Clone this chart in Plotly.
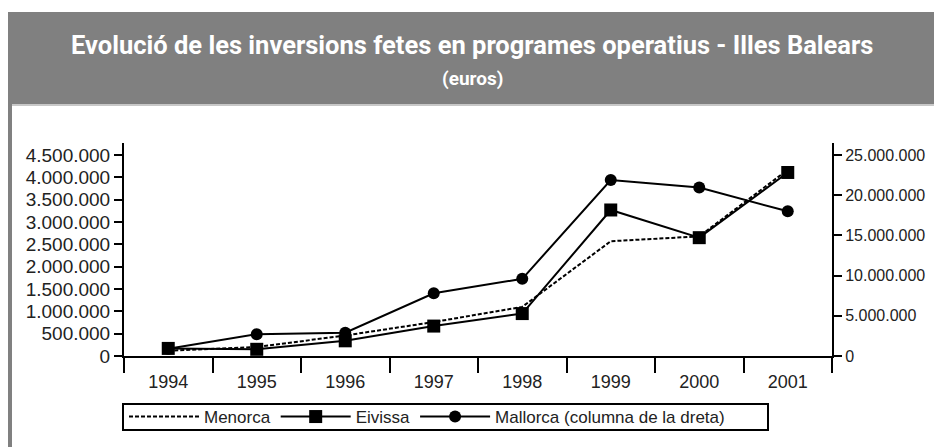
import plotly.graph_objects as go

# Dades (euros)
anys = ["1994", "1995", "1996", "1997", "1998", "1999", "2000", "2001"]
menorca = [120000, 200000, 460000, 760000, 1100000, 2570000, 2680000, 4170000]
eivissa = [170000, 150000, 340000, 670000, 950000, 3270000, 2650000, 4110000]
mallorca = [900000, 2720000, 2900000, 7800000, 9600000, 21900000, 20950000, 18000000]

left_ticks = [0, 500000, 1000000, 1500000, 2000000, 2500000, 3000000, 3500000, 4000000, 4500000]
right_ticks = [0, 5000000, 10000000, 15000000, 20000000, 25000000]

# the page body adds an 8px margin, so the figure is 8px smaller and
# every position below is page position - 8
OFF = 8
W, H = 942 - OFF, 447 - OFF
L, R, T, PB = 124 - OFF, 832 - OFF, 143 - OFF, 440 - OFF
AXIS_Y = 356 - OFF


def px(x):
    return (x - OFF - L) / (R - L)


def py(y):
    return (PB - (y - OFF)) / (PB - T)


font_axis = "Liberation Sans, Arial, sans-serif"
font_title = "Roboto, Liberation Sans, sans-serif"

fig = go.Figure()

fig.add_trace(go.Scatter(
    x=anys, y=mallorca, name="Mallorca (columna de la dreta)", mode="lines+markers",
    line=dict(color="black", width=2),
    marker=dict(symbol="circle", size=12, color="black"),
    yaxis="y2", legendrank=3,
))
fig.add_trace(go.Scatter(
    x=anys, y=menorca, name="Menorca", mode="lines",
    line=dict(color="black", width=2, dash="4px,2px"),
    legendrank=1,
))
fig.add_trace(go.Scatter(
    x=anys, y=eivissa, name="Eivissa", mode="lines+markers",
    line=dict(color="black", width=2),
    marker=dict(symbol="square", size=13, color="black"),
    legendrank=2,
))

ymax = 4770000
ydom = [(PB - AXIS_Y) / (PB - T), 1]
fig.update_layout(
    template="none",
    width=W, height=H,
    margin=dict(l=L, r=W - R, t=T, b=H - PB, pad=0),
    paper_bgcolor="white", plot_bgcolor="rgba(0,0,0,0)",
    separators=",.",
    font=dict(family=font_axis, size=17, color="#222"),
    showlegend=True,
    legend=dict(
        orientation="h", x=0, y=py(417), xanchor="left", yanchor="middle",
        borderwidth=0, itemwidth=70, traceorder="normal",
        font=dict(size=17, color="#222"), bgcolor="rgba(0,0,0,0)",
    ),
    xaxis=dict(
        type="category", range=[-0.5, 7.5], automargin=False,
        showline=True, linecolor="black", linewidth=2,
        ticks="outside", tickson="boundaries", ticklen=15, tickcolor="black", tickwidth=1.5,
        ticklabelstandoff=8,
        showgrid=False, zeroline=False,
        tickfont=dict(size=18),
    ),
    yaxis=dict(
        domain=ydom, range=[0, ymax], tickvals=left_ticks, tickformat=",d", automargin=False,
        showline=True, linecolor="black", linewidth=2,
        ticks="outside", ticklen=8, tickcolor="black", tickwidth=1.5,
        showgrid=False, zeroline=False,
        tickfont=dict(size=19),
    ),
    yaxis2=dict(
        range=[0, ymax * 25 / 4.5], tickvals=right_ticks, tickformat=",d", automargin=False,
        overlaying="y", side="right",
        showline=True, linecolor="black", linewidth=2,
        ticks="outside", ticklen=8, tickcolor="black", tickwidth=1.5,
        showgrid=False, zeroline=False,
        tickfont=dict(size=16),
    ),
)

# Capçalera grisa i vora esquerra
fig.add_shape(type="rect", xref="paper", yref="paper",
              x0=px(8), x1=px(942), y0=py(104), y1=py(12),
              fillcolor="#808080", line=dict(width=0), layer="below")
fig.add_shape(type="rect", xref="paper", yref="paper",
              x0=px(8), x1=px(942), y0=py(106), y1=py(104),
              fillcolor="#c8c8c8", line=dict(width=0), layer="below")
fig.add_shape(type="rect", xref="paper", yref="paper",
              x0=px(8), x1=px(12), y0=py(447), y1=py(104),
              fillcolor="#808080", line=dict(width=0), layer="below")

# marc de la llegenda
fig.add_shape(type="rect", xref="paper", yref="paper",
              x0=px(123), x1=px(768), y0=py(430), y1=py(404),
              fillcolor="rgba(0,0,0,0)", line=dict(color="black", width=2))

fig.add_annotation(
    text="<b>Evolució de les inversions fetes en programes operatius - Illes Balears</b>",
    xref="paper", yref="paper", x=px(472), y=py(45), xanchor="center", yanchor="middle",
    showarrow=False, font=dict(family=font_title, size=25.5, color="white"),
)
fig.add_annotation(
    text="<b>(euros)</b>",
    xref="paper", yref="paper", x=px(472), y=py(78), xanchor="center", yanchor="middle",
    showarrow=False, font=dict(family=font_title, size=19, color="white"),
)

fig.write_html("out.html")
